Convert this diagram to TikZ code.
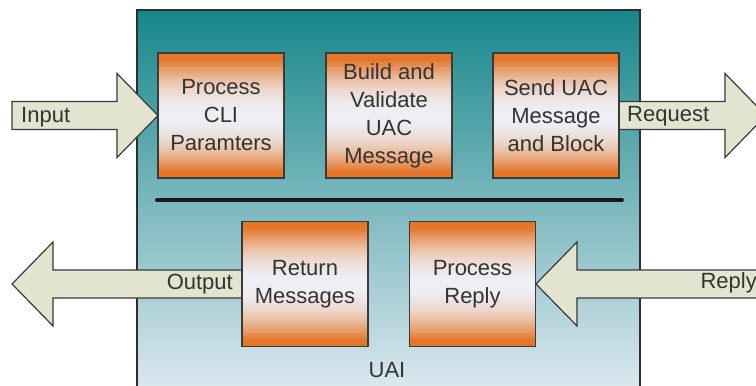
\documentclass[tikz,border=0pt]{standalone}
\usepackage{fontspec}
\setmainfont{Liberation Sans}
\definecolor{tealtop}{HTML}{16878A}
\definecolor{tealmid}{HTML}{52A3AE}
\definecolor{tealbot}{HTML}{E2EAF2}
\definecolor{boxor}{HTML}{E4762A}
\definecolor{boxmid}{HTML}{EEF0F6}
\definecolor{arrfill}{HTML}{E2E4D0}
\definecolor{edge}{HTML}{3A3A3A}
\definecolor{txt}{HTML}{333333}
\tikzset{
  procbox/.style={draw=edge, line width=1.4pt, minimum width=126pt, minimum height=125pt, inner sep=0pt, align=center, text=txt, font=\fontsize{22}{28}\selectfont},
  blockarrow/.style={draw=edge, line width=1.2pt, fill=arrfill, line join=miter},
  arrlabel/.style={text=txt, font=\fontsize{22}{26}\selectfont, inner sep=0pt},
  mainbox/.style={draw=edge!80!black, line width=1.4pt, top color=tealtop, middle color=tealmid, bottom color=tealbot, minimum width=503pt, minimum height=390pt, inner sep=0pt}
}
\begin{document}
\begin{tikzpicture}[x=1pt, y=-1pt]
\clip (0,0) rectangle (756,386);
\fill[white] (0,0) rectangle (756,386);
% main container
\node[mainbox] (main) at (388.5,205) {};
% box positions
\path (221,115.5) coordinate (c1) (389,115.5) coordinate (c2) (556,115.5) coordinate (c3)
      (305,284) coordinate (c4) (472.5,284) coordinate (c5);
% block arrows (drawn behind the boxes)
\path (c1) ++(-63,0) coordinate (p1w);
\path (c3) ++(63,0) coordinate (p3e);
\path (c4) ++(-63,0) coordinate (p4w);
\path (c5) ++(63.5,0) coordinate (p5e);
\draw[blockarrow] (p1w) -- ++(-41,-42) -- ++(0,28) -- ++(-105,0) -- ++(0,28) -- ++(105,0) -- ++(0,28) -- cycle;
\draw[blockarrow] (p3e) ++(0,-14) -- ++(106,0) -- ++(0,-28) -- ++(41,42) -- ++(-41,42) -- ++(0,-28) -- ++(-106,0) -- cycle;
\draw[blockarrow] (p4w) ++(0,-14) -- ++(-189,0) -- ++(0,-28) -- ++(-41,42) -- ++(41,42) -- ++(0,-28) -- ++(189,0) -- cycle;
\draw[blockarrow] (p5e) -- ++(41,-42) -- ++(0,28) -- ++(200,0) -- ++(0,28) -- ++(-200,0) -- ++(0,28) -- cycle;
% process box gradient fills (orange - pale - orange), built from thin strips
\foreach \c in {c1,c2,c3,c4,c5} {
  \foreach \i in {0,...,49} {
    \pgfmathsetmacro\dd{abs(\i*2.5+1.25-62.5)}
    \pgfmathtruncatemacro\tt{max(0,min(100,100*(1-(\dd/56)^2)))}
    \fill[boxmid!\tt!boxor, shift={(\c)}] (-63,-62.5+\i*2.5) rectangle ++(126,2.7);
  }
}
% process boxes
\node[procbox] (p1) at (c1) {Process\\CLI\\Paramters};
\node[procbox] (p2) at (c2) {Build and\\Validate\\UAC\\Message};
\node[procbox] (p3) at (c3) {Send UAC\\Message\\and Block};
\node[procbox] (p4) at (c4) {Return\\Messages};
\node[procbox] (p5) at (c5) {Process\\Reply};
% arrow labels
\node[arrlabel, anchor=west] (linput) at (21,117) {Input};
\node[arrlabel, anchor=west] (lrequest) at (627,116) {Request};
\node[arrlabel, anchor=east] (loutput) at (233,284) {Output};
\node[arrlabel, anchor=east] (lreply) at (757,283) {Reply};
% separator
\coordinate (sepL) at (157,200);
\coordinate (sepR) at (622,200);
\draw[line width=4pt, line cap=round, black!90] (sepL) -- (sepR);
% container label
\node[arrlabel] (uai) at (387,370) {UAI};
\end{tikzpicture}
\end{document}
